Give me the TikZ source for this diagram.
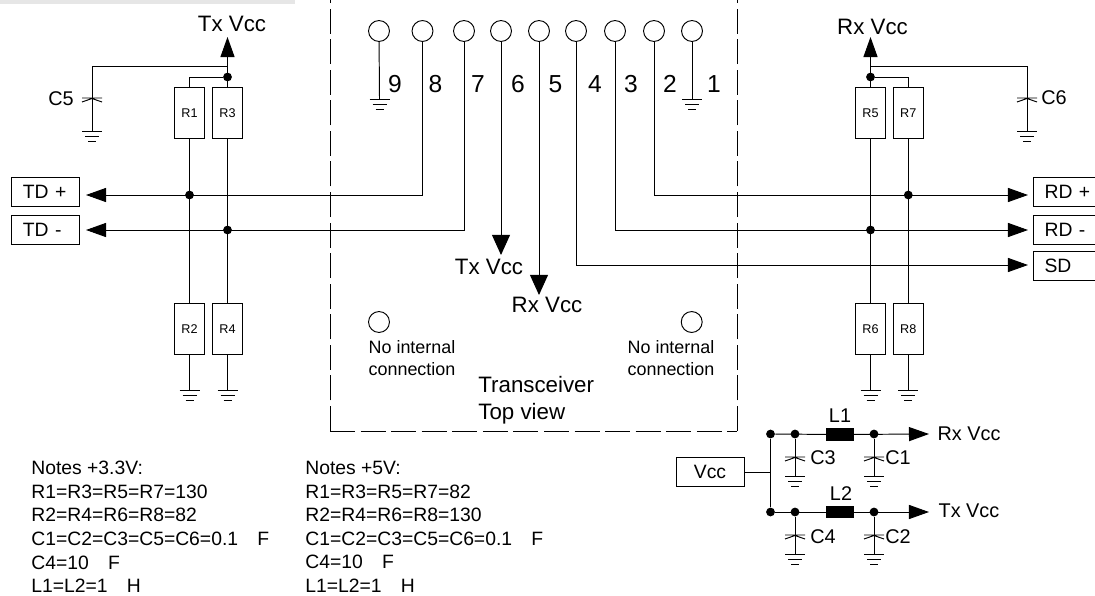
\documentclass[tikz,border=0pt]{standalone}
\usepackage{fontspec}
\setmainfont{Liberation Sans}
\usetikzlibrary{arrows.meta}

\definecolor{topbar}{HTML}{E6E6E6}

\newcommand{\groundsym}[1]{\draw[wire] (#1) ++(-10,0)--++(20,0) ++(-17,5)--++(14,0) ++(-11,5)--++(8,0);}
\newcommand{\capsym}[1]{\draw[wire] (#1) ++(-10,0)--++(20,0) (#1) ++(-10,4)--++(10,-3.5)--++(10,3.5);}

\tikzset{
    wire/.style={line width=0.55pt},
    arrowbig/.style={wire,-{Triangle[length=11.4pt,width=8pt]}},
    arrowpin/.style={wire,-{Triangle[length=11.4pt,width=10.2pt]}},
    arrowsig/.style={wire,-{Triangle[length=11.4pt,width=8pt]}},
    pin/.style={draw,line width=0.55pt,circle,minimum size=11.9pt,inner sep=0pt},
    dotnode/.style={fill=black,circle,minimum size=5pt,inner sep=0pt},
    resbox/.style={draw,line width=0.55pt,minimum width=17pt,minimum height=29.3pt,inner sep=0pt,font=\fontsize{7.2}{8}\selectfont},
    sigbox/.style={draw,line width=0.55pt,text width=26pt,align=left,inner xsep=6.5pt,inner ysep=0pt,minimum height=16.5pt,font=\fontsize{11}{13}\selectfont},
    coil/.style={fill=black,minimum width=15.6pt,minimum height=7.2pt,inner sep=0pt},
    biglabel/.style={inner sep=0pt,font=\fontsize{12.7}{15}\selectfont},
    numlabel/.style={inner sep=0pt,font=\fontsize{14}{16}\selectfont},
    smalllabel/.style={inner sep=0pt,font=\fontsize{11.3}{13}\selectfont},
    notes/.style={inner sep=0pt,align=left,anchor=north west,font=\fontsize{11}{13.4}\selectfont},
    nicnote/.style={inner sep=0pt,align=left,font=\fontsize{10.2}{12.8}\selectfont}
}

\begin{document}
\begin{tikzpicture}[x=0.02cm,y=-0.02cm]
\clip[use as bounding box] (0,0) rectangle (1095,595);

\fill[topbar] (0,0) rectangle (295,4);

% connector outline
\draw[wire,dash pattern=on 14.2pt off 3.2pt] (330,431)--(330,-5);
\draw[wire,dash pattern=on 14.2pt off 3.2pt] (330,431)--(737,431);
\draw[wire,dash pattern=on 14.2pt off 3.2pt] (737,431)--(737,-5);

% pins
\node[pin] (p9) at (379,31) {};
\node[pin] (p8) at (422.5,31) {};
\node[pin] (p7) at (464,31) {};
\node[pin] (p6) at (501,31) {};
\node[pin] (p5) at (539,31) {};
\node[pin] (p4) at (576,31) {};
\node[pin] (p3) at (615,31) {};
\node[pin] (p2) at (654,31) {};
\node[pin] (p1) at (692,31) {};

\node[numlabel] (n9) at (395,84) {9};
\node[numlabel] (n8) at (435.5,84) {8};
\node[numlabel] (n7) at (478,84) {7};
\node[numlabel] (n6) at (518,84) {6};
\node[numlabel] (n5) at (555.5,84) {5};
\node[numlabel] (n4) at (595,84) {4};
\node[numlabel] (n3) at (631,84) {3};
\node[numlabel] (n2) at (670,84) {2};
\node[numlabel] (n1) at (714,84) {1};

\coordinate (g9) at (379.5,99);
\coordinate (g1) at (692,99);
\draw[wire] (p9)--(g9);
\draw[wire] (p1)--(g1);
\groundsym{g9}
\groundsym{g1}

% transmit side
\node[resbox] (R1) at (189.5,113) {R1};
\node[resbox] (R3) at (227.5,113) {R3};
\node[resbox] (R2) at (189.5,329) {R2};
\node[resbox] (R4) at (227.5,329) {R4};
\node[sigbox] (tdp) at (45.7,192) {TD +};
\node[sigbox] (tdm) at (45.7,230) {TD -};
\node[biglabel] (txtop) at (232,24) {Tx Vcc};
\node[smalllabel] (c5l) at (61,99) {C5};

\node[dotnode] (dt) at (227.5,77) {};
\node[dotnode] (d1) at (189.5,195) {};
\node[dotnode] (d3) at (227.5,230) {};

\coordinate (txtip) at (227.5,37);
\coordinate (txj) at (227.5,66);
\coordinate (c5) at (92,98);
\coordinate (g5) at (92,131);
\coordinate (g2) at (189.5,390);
\coordinate (g4) at (227.5,390);
\coordinate (tdptip) at (86,195);
\coordinate (tdmtip) at (86,230);

\draw[arrowbig] (R3.north)--(txtip);
\draw[wire] (dt) -| (R1.north);
\draw[wire] (txj) -| (g5);
\capsym{c5}
\groundsym{g5}
\draw[wire] (R1.south)--(R2.north);
\draw[wire] (R3.south)--(R4.north);
\draw[wire] (R2.south)--(g2);
\draw[wire] (R4.south)--(g4);
\groundsym{g2}
\groundsym{g4}
\draw[arrowsig] (p8) |- (tdptip);
\draw[arrowsig] (p7) |- (tdmtip);

% supply pins
\coordinate (p6tip) at (501,255);
\coordinate (p5tip) at (539,295);
\draw[arrowpin] (p6)--(p6tip);
\draw[arrowpin] (p5)--(p5tip);
\node[biglabel] (txpin) at (489,267) {Tx Vcc};
\node[biglabel] (rxpin) at (547,305) {Rx Vcc};

% receive side
\node[resbox] (R5) at (870.5,113) {R5};
\node[resbox] (R7) at (908.3,113) {R7};
\node[resbox] (R6) at (870.5,329) {R6};
\node[resbox] (R8) at (908.3,329) {R8};
\node[sigbox] (rdp) at (1067.4,192) {RD +};
\node[sigbox] (rdm) at (1067.4,230) {RD -};
\node[sigbox] (sd) at (1067.4,266) {SD};
\node[biglabel] (rxtop) at (872.5,27) {Rx Vcc};
\node[smalllabel] (c6l) at (1054,98) {C6};

\node[dotnode] (dr) at (870.5,77) {};
\node[dotnode] (d7) at (908.3,195) {};
\node[dotnode] (d5) at (870.5,230) {};

\coordinate (rxtip) at (870.5,37);
\coordinate (rxj) at (870.5,66);
\coordinate (c6) at (1027,98);
\coordinate (g6) at (1027,131);
\coordinate (g8) at (870.5,390);
\coordinate (g7) at (908.3,390);
\coordinate (rdptip) at (1028,195);
\coordinate (rdmtip) at (1028,230);
\coordinate (sdtip) at (1028,265);

\draw[arrowbig] (R5.north)--(rxtip);
\draw[wire] (dr) -| (R7.north);
\draw[wire] (rxj) -| (g6);
\capsym{c6}
\groundsym{g6}
\draw[wire] (R5.south)--(R6.north);
\draw[wire] (R7.south)--(R8.north);
\draw[wire] (R6.south)--(g8);
\draw[wire] (R8.south)--(g7);
\groundsym{g8}
\groundsym{g7}
\draw[arrowsig] (p2) |- (rdptip);
\draw[arrowsig] (p3) |- (rdmtip);
\draw[arrowsig] (p4) |- (sdtip);

% unconnected pads
\node[pin] (ncl) at (379,322) {};
\node[pin] (ncr) at (691.7,322) {};
\node[nicnote] (ncltxt) at (412,358) {No internal\\connection};
\node[nicnote] (ncrtxt) at (671,358) {No internal\\connection};
\node[inner sep=0pt,align=left,anchor=west,font=\fontsize{12.7}{15.4}\selectfont] (title) at (478,400) {Transceiver\\Top view};

% supply filter
\node[draw,line width=0.55pt,minimum width=38.7pt,minimum height=16.5pt,inner sep=0pt,font=\fontsize{11}{13}\selectfont] (vcc) at (710,472) {Vcc};
\node[dotnode] (f1) at (770.5,434) {};
\node[dotnode] (f2) at (770.5,512) {};
\node[dotnode] (f3) at (795,434) {};
\node[dotnode] (f4) at (795,512) {};
\node[dotnode] (f5) at (874,434) {};
\node[dotnode] (f6) at (874,512) {};
\node[coil] (L1) at (840,434.5) {};
\node[coil] (L2) at (840,512) {};
\node[smalllabel] (l1l) at (840,416) {L1};
\node[smalllabel] (l2l) at (841,494) {L2};
\node[smalllabel] (c3l) at (823,458) {C3};
\node[smalllabel] (c1l) at (898,458) {C1};
\node[smalllabel] (c4l) at (823,537) {C4};
\node[smalllabel] (c2l) at (898,537) {C2};
\node[smalllabel] (rxout) at (969,434) {Rx Vcc};
\node[smalllabel] (txout) at (969,511) {Tx Vcc};

\coordinate (rxend) at (929,434);
\coordinate (txend) at (929,512);
\coordinate (c3) at (795,457);
\coordinate (c1) at (874,457);
\coordinate (c4) at (795,535);
\coordinate (c2) at (874,535);
\coordinate (g33) at (795,476);
\coordinate (g11) at (874,476);
\coordinate (g44) at (795,554);
\coordinate (g22) at (874,554);

\draw[wire] (f1)--(f2);
\draw[wire] (vcc.east) -- (vcc.east -| f1);
\draw[wire] (f1)--(L1);
\draw[wire] (f2)--(L2);
\draw[arrowsig] (L1)--(rxend);
\draw[arrowsig] (L2)--(txend);
\draw[wire] (f3)--(g33);
\draw[wire] (f5)--(g11);
\draw[wire] (f4)--(g44);
\draw[wire] (f6)--(g22);
\capsym{c3}
\capsym{c1}
\capsym{c4}
\capsym{c2}
\groundsym{g33}
\groundsym{g11}
\groundsym{g44}
\groundsym{g22}

% value notes
\node[notes] (notesa) at (31,461) {Notes +3.3V:\\R1=R3=R5=R7=130\\R2=R4=R6=R8=82\\C1=C2=C3=C5=C6=0.1\hspace{11pt}F\\C4=10\hspace{11pt}F\\L1=L2=1\hspace{11pt}H};
\node[notes] (notesb) at (305,461) {Notes +5V:\\R1=R3=R5=R7=82\\R2=R4=R6=R8=130\\C1=C2=C3=C5=C6=0.1\hspace{11pt}F\\C4=10\hspace{11pt}F\\L1=L2=1\hspace{11pt}H};

\end{tikzpicture}
\end{document}
